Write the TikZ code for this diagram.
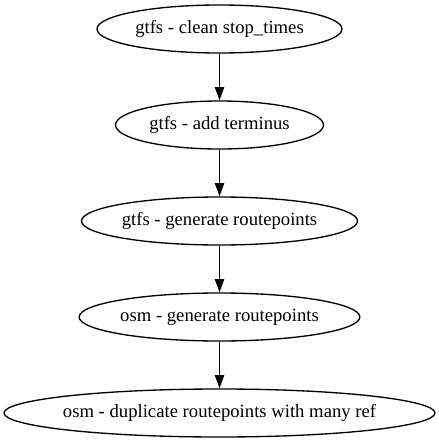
\documentclass[tikz,border=0pt]{standalone}
\usepackage{fontspec}
\setmainfont{Liberation Serif}
\usetikzlibrary{shapes.geometric,arrows.meta}
\begin{document}
\begin{tikzpicture}[x=0.75pt,y=-0.75pt,
  ell/.style={draw,ellipse,line width=1pt,inner sep=0pt,minimum height=36pt,
    label={[font=\fontsize{14}{16}\selectfont]center:#1}},
  edge/.style={draw,line width=1pt,-{Triangle[length=10pt,width=7pt]}}]
\useasboundingbox (0,0) rectangle (439,443);
\node[ell={gtfs - clean stop\_times},minimum width=183.75pt] (a) at (219.5,29) {};
\node[ell={gtfs - add terminus},minimum width=156pt] (b) at (219.5,125) {};
\node[ell={gtfs - generate routepoints},minimum width=207pt] (c) at (219.5,221) {};
\node[ell={osm - generate routepoints},minimum width=210.5pt] (d) at (219.5,317) {};
\node[ell={osm - duplicate routepoints with many ref},minimum width=323.25pt] (e) at (219.5,413) {};
\path[edge] (a) -- (b);
\path[edge] (b) -- (c);
\path[edge] (c) -- (d);
\path[edge] (d) -- (e);
\end{tikzpicture}
\end{document}
